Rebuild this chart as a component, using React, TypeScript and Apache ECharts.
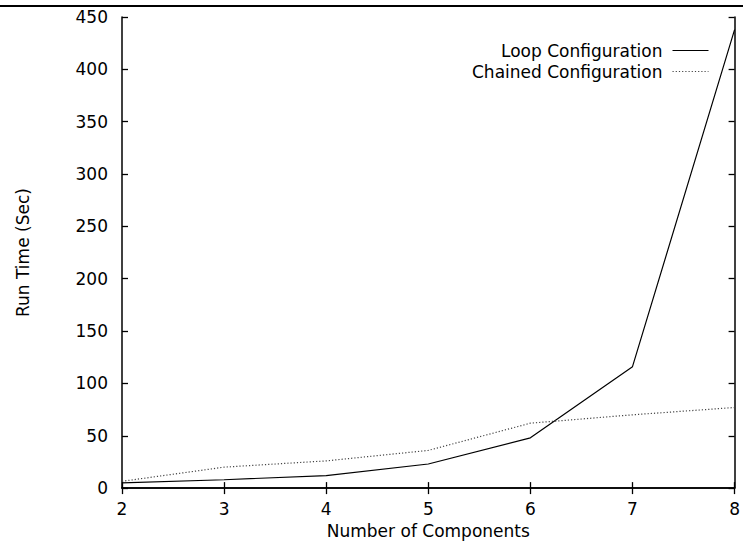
import React, { useEffect, useRef } from "react";
import * as echarts from "echarts";

const components = [2, 3, 4, 5, 6, 7, 8];
const loopTimes = [5, 8, 12, 23, 48, 116, 438];
const chainedTimes = [6.5, 20, 26, 36, 62, 70, 77];
const seriesNames = ["Loop Configuration", "Chained Configuration"];
const xAxisTitle = "Number of Components";
const yAxisTitle = "Run Time (Sec)";

const FONT = "'DejaVu Sans', 'Liberation Sans', Arial, sans-serif";
const FS = 17;

export default function App() {
  const ref = useRef<HTMLDivElement>(null);
  useEffect(() => {
    if (!ref.current) return;
    const chart = echarts.init(ref.current, null, { renderer: "svg" });
    const axisLine = { show: true, lineStyle: { color: "#000", width: 1.5 } };
    const tick = { show: true, inside: true, length: 6, lineStyle: { color: "#000", width: 1.3 } };
    chart.setOption({
      animation: false,
      backgroundColor: "#fff",
      textStyle: { fontFamily: FONT },
      grid: { left: 122, right: 6, top: 17, bottom: 49, containLabel: false },
      legend: {
        right: 29,
        top: 37,
        orient: "vertical",
        align: "right",
        itemWidth: 36,
        itemHeight: 14,
        itemGap: 4,
        selectedMode: false,
        itemStyle: { opacity: 0 },
        lineStyle: { width: 1 },
        textStyle: { fontSize: FS, color: "#000", fontFamily: FONT, padding: [0, 5, 0, 0] },
        data: seriesNames,
      },
      xAxis: [
        {
          type: "value",
          min: 2,
          max: 8,
          interval: 1,
          position: "bottom",
          axisLine,
          axisTick: tick,
          splitLine: { show: false },
          axisLabel: { fontSize: FS, color: "#000", margin: 12, fontFamily: FONT },
          name: xAxisTitle,
          nameLocation: "middle",
          nameGap: 27,
          nameTextStyle: { fontSize: FS, color: "#000", fontFamily: FONT },
        },
        {
          type: "value",
          min: 2,
          max: 8,
          interval: 1,
          position: "top",
          axisLine,
          axisTick: tick,
          splitLine: { show: false },
          axisLabel: { show: false },
        },
      ],
      yAxis: [
        {
          type: "value",
          min: 0,
          max: 450,
          interval: 50,
          position: "left",
          axisLine,
          axisTick: tick,
          splitLine: { show: false },
          axisLabel: { fontSize: FS, color: "#000", margin: 14, fontFamily: FONT },
          name: yAxisTitle,
          nameLocation: "middle",
          nameGap: 91,
          nameTextStyle: { fontSize: FS, color: "#000", fontFamily: FONT },
        },
        {
          type: "value",
          min: 0,
          max: 450,
          interval: 50,
          position: "right",
          axisLine,
          axisTick: tick,
          splitLine: { show: false },
          axisLabel: { show: false },
        },
      ],
      series: [
        {
          name: seriesNames[0],
          type: "line",
          showSymbol: false,
          symbol: "none",
          data: components.map((c, i) => [c, loopTimes[i]]),
          lineStyle: { color: "#000", width: 1.2, type: "solid" },
          itemStyle: { color: "#000" },
        },
        {
          name: seriesNames[1],
          type: "line",
          showSymbol: false,
          symbol: "none",
          data: components.map((c, i) => [c, chainedTimes[i]]),
          lineStyle: { color: "#444", width: 1.2, type: [1.2, 2] },
          itemStyle: { color: "#444" },
        },
      ],
      graphic: [
        {
          type: "rect",
          shape: { x: 0, y: 5, width: 743, height: 2 },
          style: { fill: "#000" },
          silent: true,
        },
      ],
    });
    return () => chart.dispose();
  }, []);
  return (
    <div
      ref={ref}
      style={{ position: "absolute", left: 0, top: 0, width: 743, height: 544, background: "#fff" }}
    />
  );
}
